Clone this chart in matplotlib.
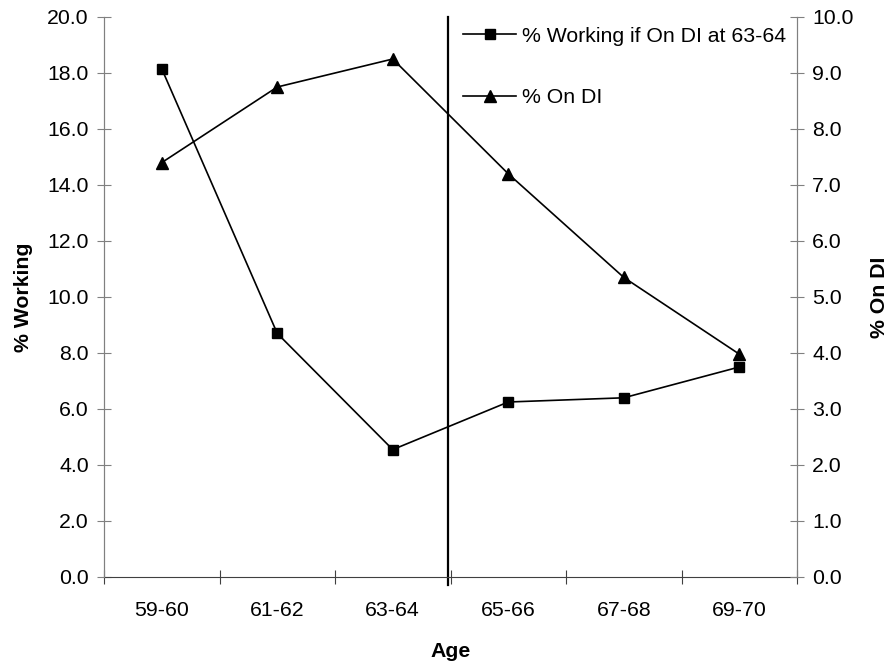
import numpy as np
import matplotlib.pyplot as plt
from matplotlib.ticker import FormatStrFormatter, FixedLocator

plt.rcParams['font.family'] = ['Liberation Sans', 'DejaVu Sans']

ages = ['59-60', '61-62', '63-64', '65-66', '67-68', '69-70']
working = [18.15, 8.7, 4.55, 6.25, 6.4, 7.5]
on_di = [7.4, 8.75, 9.25, 7.2, 5.35, 3.98]

fs = 15.3
x = np.arange(len(ages))

fig = plt.figure(figsize=(8.9, 6.69), dpi=100)
ax = fig.add_axes([104/890, 92/669, 693/890, 560/669])
ax2 = ax.twinx()

l1, = ax.plot(x, working, color='black', lw=1.2, marker='s', ms=7,
              label='% Working if On DI at 63-64', clip_on=False)
l2, = ax2.plot(x, on_di, color='black', lw=1.2, marker='^', ms=9,
               label='% On DI', clip_on=False)

ax.set_xlim(-0.5, 5.5)
ax.set_ylim(0, 20)
ax2.set_ylim(0, 10)
ax.set_yticks(np.arange(0, 20.1, 2))
ax2.set_yticks(np.arange(0, 10.1, 1))
ax.yaxis.set_major_formatter(FormatStrFormatter('%.1f'))
ax2.yaxis.set_major_formatter(FormatStrFormatter('%.1f'))

# category labels in the middle, tick marks on the boundaries
ax.set_xticks(x)
ax.set_xticklabels(ages)
ax.xaxis.set_minor_locator(FixedLocator(np.arange(-0.5, 5.6, 1)))
ax.tick_params(axis='x', which='major', length=0, pad=17, labelsize=fs)
ax.tick_params(axis='x', which='minor', direction='inout', length=10,
               width=0.8, color='#404040')
ax.tick_params(axis='y', direction='inout', length=10, width=0.8,
               color='#808080', labelsize=fs, pad=6)
ax2.tick_params(axis='y', direction='inout', length=10, width=0.8,
                color='#808080', labelsize=fs, pad=6)

for a in (ax, ax2):
    a.spines['top'].set_visible(False)
    a.spines['left'].set_color('#808080')
    a.spines['right'].set_color('#808080')
    a.spines['bottom'].set_color('#404040')
ax2.spines['bottom'].set_visible(False)

ax.axvline(2.48, ymin=-0.015, ymax=1, color='black', lw=1.6, clip_on=False)

ax.set_xlabel('Age', fontsize=fs, fontweight='bold', labelpad=16)
ax.set_ylabel('% Working', fontsize=fs, fontweight='bold', labelpad=10)
ax2.set_ylabel('% On DI', fontsize=fs, fontweight='bold', labelpad=12)

ax2.legend(handles=[l1, l2], loc='upper left', bbox_to_anchor=(0.518, 0.983),
           frameon=False, fontsize=fs, handlelength=2.5, handletextpad=0.28,
           labelspacing=2.0, borderpad=0, borderaxespad=0)

fig.savefig('out.png', dpi=100)
